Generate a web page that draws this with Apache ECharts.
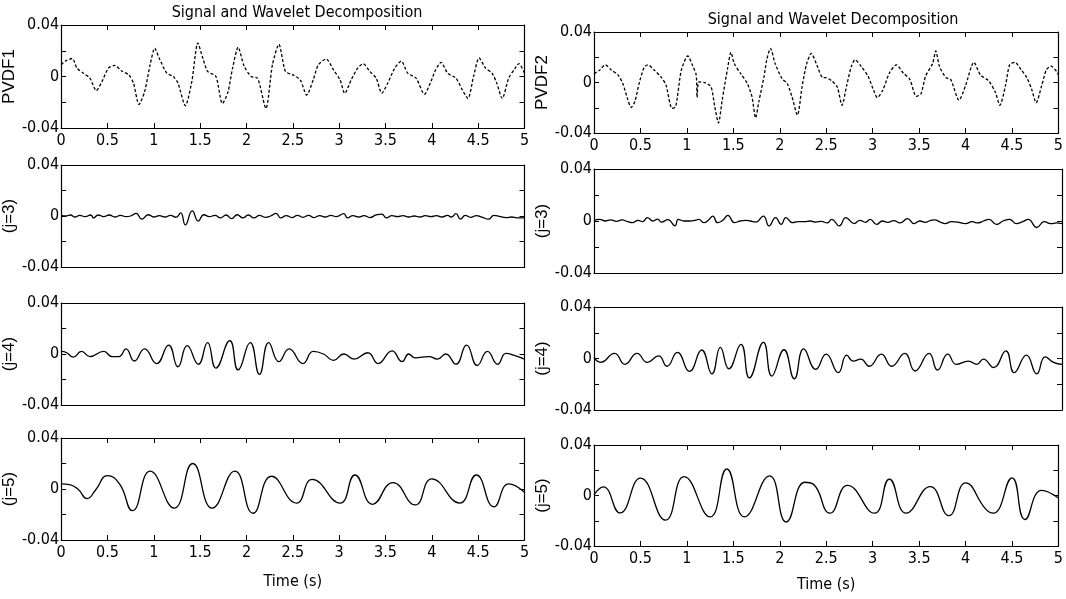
<!DOCTYPE html>
<html><head><meta charset="utf-8">
<script src="https://cdn.jsdelivr.net/npm/echarts@6/dist/echarts.min.js"></script>
<style>html,body{margin:0;padding:0;background:#fff}#c{width:1066px;height:599px}</style>
</head><body><div id="c"></div>
<script>
// ---------- DATA ----------
const chartTitle = 'Signal and Wavelet Decomposition';
const xLabel = 'Time (s)';
const xTickLabels = ['0','0.5','1','1.5','2','2.5','3','3.5','4','4.5','5'];
const yTickLabels = {'-4':'-0.04','0':'0','4':'0.04'};
const rowNamesLeft = ['PVDF1','(j=3)','(j=4)','(j=5)'];
const rowNamesRight = ['PVDF2','(j=3)','(j=4)','(j=5)'];

const pvdf1T = [0,0.046,0.12,0.17,0.24,0.31,0.38,0.44,0.51,0.58,0.65,0.73,0.78,0.84,0.90,0.96,1.01,1.06,1.14,1.21,1.26,1.34,1.41,1.475,1.53,1.58,1.67,1.74,1.80,1.85,1.91,1.975,2.05,2.12,2.21,2.28,2.35,2.42,2.5,2.58,2.65,2.72,2.775,2.86,2.94,3.01,3.06,3.13,3.20,3.26,3.33,3.40,3.46,3.525,3.60,3.67,3.74,3.83,3.92,3.99,4.04,4.10,4.17,4.26,4.33,4.39,4.45,4.51,4.58,4.65,4.70,4.76,4.83,4.90,4.94,5.0];
const pvdf1V = [0.009,0.012,0.014,0.0065,0.0026,-0.0013,-0.011,-0.004,0.0065,0.0086,0.0044,0.0013,-0.005,-0.0217,-0.012,0.009,0.022,0.014,0.0026,0,-0.005,-0.0227,-0.004,0.026,0.014,0.004,0,-0.021,-0.012,0.0065,0.0227,0.008,0,-0.0013,-0.0248,0.009,0.025,0.004,0.0013,-0.0026,-0.0144,-0.0026,0.009,0.0136,0.005,-0.0026,-0.0131,-0.0026,0.0065,0.0099,0.004,-0.0013,-0.013,-0.005,0.0065,0.012,0.0026,-0.0013,-0.0138,-0.004,0.005,0.011,0.0026,-0.0013,-0.0105,-0.017,0,0.0144,0.0065,0.0026,-0.005,-0.017,-0.0013,0.0065,0.01,0.0026];

const pvdf2T = [0,0.06,0.12,0.19,0.26,0.31,0.36,0.40,0.44,0.49,0.54,0.58,0.65,0.72,0.775,0.84,0.88,0.94,1.01,1.06,1.10,1.11,1.13,1.20,1.26,1.30,1.34,1.38,1.44,1.475,1.51,1.58,1.65,1.70,1.74,1.775,1.83,1.86,1.90,1.95,2.025,2.08,2.13,2.19,2.24,2.29,2.34,2.40,2.46,2.5,2.56,2.62,2.67,2.72,2.77,2.81,2.88,2.95,3.01,3.05,3.11,3.18,3.255,3.33,3.40,3.47,3.52,3.57,3.645,3.68,3.72,3.79,3.84,3.93,4.0,4.09,4.16,4.25,4.32,4.37,4.43,4.475,4.53,4.60,4.66,4.71,4.76,4.82,4.87,4.92,4.98,5.0];
const pvdf2V = [0.007,0.0097,0.014,0.0097,0.0058,-0.0008,-0.0126,-0.0197,-0.015,0.0005,0.012,0.014,0.0097,0.0045,-0.002,-0.0205,-0.019,0.0097,0.021,0.0137,0.006,-0.0118,0.0005,-0.0003,-0.0034,-0.019,-0.032,-0.014,0.012,0.024,0.015,0.007,-0.0008,-0.011,-0.028,-0.015,0.0045,0.018,0.027,0.015,0.003,-0.0008,-0.011,-0.0258,-0.0034,0.015,0.023,0.0137,0.004,0.0038,0.0013,-0.0038,-0.018,-0.0025,0.0125,0.018,0.0125,0.005,-0.006,-0.012,-0.006,0.0075,0.014,0.0075,0.0025,-0.011,-0.009,0.005,0.015,0.025,0.0125,0.0038,0.0025,-0.014,-0.0025,0.016,0.006,0.0013,-0.0075,-0.018,-0.0025,0.014,0.016,0.01,0.0038,-0.005,-0.016,-0.0025,0.01,0.013,0.0088,0.006];

const j3LeftT = [0,0.05,0.10,0.15,0.20,0.26,0.32,0.35,0.40,0.46,0.52,0.58,0.64,0.70,0.75,0.81,0.87,0.94,1.0,1.06,1.12,1.18,1.24,1.29,1.34,1.415,1.48,1.54,1.60,1.66,1.72,1.78,1.84,1.90,1.96,2.02,2.08,2.14,2.20,2.26,2.32,2.37,2.43,2.49,2.55,2.61,2.67,2.73,2.79,2.85,2.91,2.97,3.05,3.09,3.15,3.21,3.27,3.33,3.40,3.46,3.51,3.57,3.63,3.69,3.75,3.81,3.87,3.93,3.99,4.05,4.11,4.17,4.21,4.26,4.31,4.36,4.42,4.48,4.54,4.61,4.67,4.74,4.80,4.86,4.92,5.0];
const j3LeftV = [0.0005,0,0.0008,-0.0008,0.0005,-0.0005,0.0008,-0.0015,0.0008,-0.0005,0.0008,-0.0008,0.0005,-0.0005,0,0.002,-0.0025,0.001,-0.0008,0.0003,-0.0008,0.0005,-0.001,0.0025,-0.007,0.004,-0.004,0.001,-0.0005,0.0005,-0.0015,0.0008,-0.002,0.001,-0.0015,0.0008,-0.0015,0.0005,-0.001,0,0.002,-0.0015,0.0003,-0.0012,0.0005,-0.001,0.0005,-0.0012,0.0003,-0.0008,0.0005,-0.0005,0.0018,-0.0015,0.0003,-0.0008,0.0003,-0.0012,0.0008,0.0015,-0.0015,0.0003,-0.0005,0.0003,-0.0008,0,-0.0008,0.0003,-0.0005,0.0003,-0.0008,0.0005,-0.0008,0.0018,-0.0025,0.0005,-0.001,0.0003,-0.0008,-0.0025,0.0005,-0.0005,-0.0012,-0.0008,-0.0015,-0.0015];

const j3RightT = [0,0.06,0.12,0.18,0.24,0.30,0.36,0.41,0.47,0.52,0.57,0.63,0.68,0.72,0.79,0.865,0.90,0.96,1.02,1.08,1.12,1.175,1.22,1.27,1.32,1.38,1.43,1.50,1.56,1.62,1.67,1.73,1.81,1.87,1.94,2.0,2.05,2.12,2.18,2.25,2.31,2.37,2.43,2.49,2.54,2.62,2.69,2.78,2.84,2.90,2.95,3.02,3.08,3.14,3.20,3.27,3.35,3.42,3.48,3.54,3.59,3.64,3.70,3.75,3.82,3.88,3.97,4.04,4.10,4.16,4.22,4.30,4.37,4.44,4.51,4.58,4.64,4.73,4.81,4.88,4.94,5.0];
const j3RightV = [0.0005,0.0013,0,0.0008,-0.0003,0.0008,-0.0005,-0.0013,0.0005,-0.0005,0.0026,0,0.0015,-0.0008,0.001,-0.0038,0.0013,0,0,0.0005,0.0013,-0.0013,0.0005,0.0038,-0.0013,0.0008,0.0044,-0.0013,0,0.0005,0,-0.0008,0.0038,-0.0038,0.0026,-0.0026,0.0026,-0.0013,-0.0005,-0.0005,0,-0.0008,-0.0003,-0.0015,0.0013,-0.0038,0.0026,-0.002,0.0005,-0.001,0.0013,-0.0026,0,-0.001,0.0003,-0.0015,0.0018,-0.002,0,-0.001,0.0003,0.0008,-0.0008,-0.002,-0.0005,-0.0008,-0.002,-0.0005,-0.0015,0,0.0013,-0.0026,0,0.0013,-0.002,-0.0005,0.0013,-0.005,-0.0005,-0.002,-0.0015,-0.002];

const j4LeftT = [0,0.06,0.13,0.22,0.31,0.46,0.55,0.625,0.70,0.79,0.90,1.03,1.16,1.26,1.36,1.48,1.58,1.67,1.82,1.91,2.04,2.14,2.24,2.35,2.46,2.61,2.72,2.83,2.94,3.05,3.16,3.31,3.42,3.57,3.68,3.75,3.82,3.97,4.06,4.15,4.26,4.375,4.49,4.60,4.71,4.80,4.89,5.0];
const j4LeftV = [0.002,0.001,-0.0025,0.002,-0.002,0.002,-0.002,-0.002,0.004,-0.0055,0.004,-0.0075,0.007,-0.01,0.0065,-0.008,0.009,-0.011,0.0105,-0.0125,0.009,-0.016,0.009,-0.006,0.004,-0.0075,0.002,0,-0.005,0,-0.004,0.001,-0.0075,0.0025,-0.006,0,-0.003,-0.002,-0.004,0,-0.008,0.007,-0.009,0.002,-0.008,0.0005,-0.001,-0.004];

const j4RightT = [0,0.07,0.22,0.33,0.46,0.57,0.69,0.78,0.89,1.02,1.15,1.26,1.35,1.44,1.57,1.66,1.81,1.90,2.03,2.14,2.24,2.37,2.48,2.61,2.70,2.77,2.85,2.94,3.07,3.18,3.32,3.43,3.58,3.67,3.78,3.87,4.0,4.09,4.16,4.27,4.40,4.49,4.62,4.73,4.82,4.91,5.0];
const j4RightV = [0.0008,-0.003,0.004,-0.0045,0.004,-0.003,0.002,-0.006,0.0047,-0.01,0.0066,-0.012,0.0087,-0.008,0.011,-0.015,0.0126,-0.0137,0.0068,-0.0158,0.0074,-0.0084,0.0034,-0.011,0.0026,-0.002,-0.0005,-0.006,0.0034,-0.006,0.004,-0.0097,0.004,-0.009,0.0034,-0.0045,-0.002,-0.0045,-0.0005,-0.007,0.006,-0.011,0.0026,-0.012,0.0013,-0.003,-0.0045];

const j5LeftT = [0,0.09,0.18,0.28,0.37,0.5,0.63,0.77,0.96,1.22,1.42,1.63,1.875,2.07,2.27,2.54,2.71,3.01,3.17,3.36,3.58,3.82,4.0,4.30,4.48,4.67,4.83,5.0];
const j5LeftV = [0.004,0.0035,0,-0.0075,-0.001,0.0105,0.004,-0.017,0.014,-0.015,0.02,-0.015,0.014,-0.019,0.01,-0.011,0.0075,-0.011,0.011,-0.012,0.005,-0.0125,0.008,-0.011,0.011,-0.014,0.004,-0.0025];

const j5RightT = [0,0.1,0.28,0.5,0.77,0.97,1.25,1.43,1.62,1.89,2.07,2.27,2.36,2.54,2.73,3.02,3.18,3.36,3.62,3.82,4.0,4.22,4.30,4.50,4.64,4.82,5.0];
const j5RightV = [0.0005,0.0068,-0.0138,0.0138,-0.0195,0.015,-0.017,0.021,-0.017,0.0155,-0.021,0.0105,0.009,-0.014,0.008,-0.014,0.013,-0.014,0.007,-0.016,0.01,-0.011,-0.014,0.014,-0.019,0.004,-0.002];

// ---------- LAYOUT ----------
const FONT = "'Liberation Sans Narrow','Arial Narrow','DejaVu Sans Condensed',sans-serif";
const NAMEFONT = "'Liberation Sans','Arial',sans-serif";
const panels = [
  {t:pvdf1T, v:pvdf1V, name:rowNamesLeft[0], left:57.5, top:25, w:467, h:103, xl:true, xt:true, gap:31, dash:[3,2], sm:0.25},
  {t:j3LeftT, v:j3LeftV, name:rowNamesLeft[1], left:57.5, top:165, w:467, h:102, xl:false, xt:false, gap:33, dash:'solid', sm:0.5},
  {t:j4LeftT, v:j4LeftV, name:rowNamesLeft[2], left:57.5, top:303, w:467, h:102, xl:false, xt:false, gap:33, dash:'solid', sm:0.5},
  {t:j5LeftT, v:j5LeftV, name:rowNamesLeft[3], left:57.5, top:438, w:467, h:102, xl:true, xt:true, gap:33, dash:'solid', sm:0.5, xname:xLabel, xgap:34},
  {t:pvdf2T, v:pvdf2V, name:rowNamesRight[0], left:594, top:32, w:468, h:101, xl:true, xt:true, gap:36, dash:[3,2], sm:0.25},
  {t:j3RightT, v:j3RightV, name:rowNamesRight[1], left:594, top:169, w:468, h:104, xl:false, xt:false, gap:35, dash:'solid', sm:0.5},
  {t:j4RightT, v:j4RightV, name:rowNamesRight[2], left:594, top:307, w:468, h:103, xl:false, xt:false, gap:35, dash:'solid', sm:0.5},
  {t:j5RightT, v:j5RightV, name:rowNamesRight[3], left:594, top:445, w:468, h:101, xl:true, xt:true, gap:35, dash:'solid', sm:0.5, xname:xLabel, xgap:31}
];

const axLine = {show:true, onZero:false, lineStyle:{color:'#000', width:1.2}};
const option = {
  animation:false, backgroundColor:'#fff',
  title:[
    {text:chartTitle, left:292, top:0, textAlign:'center', textStyle:{fontFamily:FONT, fontSize:16, fontWeight:'normal', color:'#000'}},
    {text:chartTitle, left:828, top:7, textAlign:'center', textStyle:{fontFamily:FONT, fontSize:16, fontWeight:'normal', color:'#000'}}
  ],
  grid:[], xAxis:[], yAxis:[], series:[]
};
panels.forEach((p,i)=>{
  option.grid.push({left:p.left, top:p.top, width:p.w, height:p.h});
  option.xAxis.push({type:'value', gridIndex:i, min:0, max:5, interval:0.5, position:'bottom',
    axisLine:axLine, splitLine:{show:false},
    axisTick:{show:p.xt, inside:true, length:5, lineStyle:{color:'#000', width:1}},
    axisLabel:{show:p.xl, margin:5, fontSize:16, color:'#000', fontFamily:FONT, formatter:v=>xTickLabels[Math.round(v*2)]},
    name:p.xname||'', nameLocation:'middle', nameGap:p.xgap||30,
    nameTextStyle:{fontFamily:FONT, fontSize:16, color:'#000'}});
  option.xAxis.push({type:'value', gridIndex:i, min:0, max:5, interval:0.5, position:'top',
    axisLine:axLine, splitLine:{show:false},
    axisTick:{show:p.xt, inside:true, length:5, lineStyle:{color:'#000', width:1}},
    axisLabel:{show:false}});
  option.yAxis.push({type:'value', gridIndex:i, min:-0.04, max:0.04, interval:0.02, position:'left',
    axisLine:axLine, splitLine:{show:false},
    axisTick:{show:true, inside:true, length:5, lineStyle:{color:'#000', width:1}},
    axisLabel:{margin:2, fontSize:16, color:'#000', fontFamily:FONT, formatter:v=>yTickLabels[String(Math.round(v*100))]||''},
    name:p.name, nameLocation:'middle', nameGap:p.gap,
    nameTextStyle:{fontFamily:NAMEFONT, fontSize:17, color:'#000'}});
  option.yAxis.push({type:'value', gridIndex:i, min:-0.04, max:0.04, interval:0.02, position:'right',
    axisLine:axLine, splitLine:{show:false},
    axisTick:{show:true, inside:true, length:5, lineStyle:{color:'#000', width:1}},
    axisLabel:{show:false}});
  option.series.push({type:'line', xAxisIndex:2*i, yAxisIndex:2*i,
    data:p.t.map((t,k)=>[t,p.v[k]]), symbol:'none', smooth:p.sm,
    lineStyle:{color:'#000', width:1.3, type:p.dash}});
});
const chart = echarts.init(document.getElementById('c'), null, {renderer:'canvas'});
chart.setOption(option);
</script></body></html>
